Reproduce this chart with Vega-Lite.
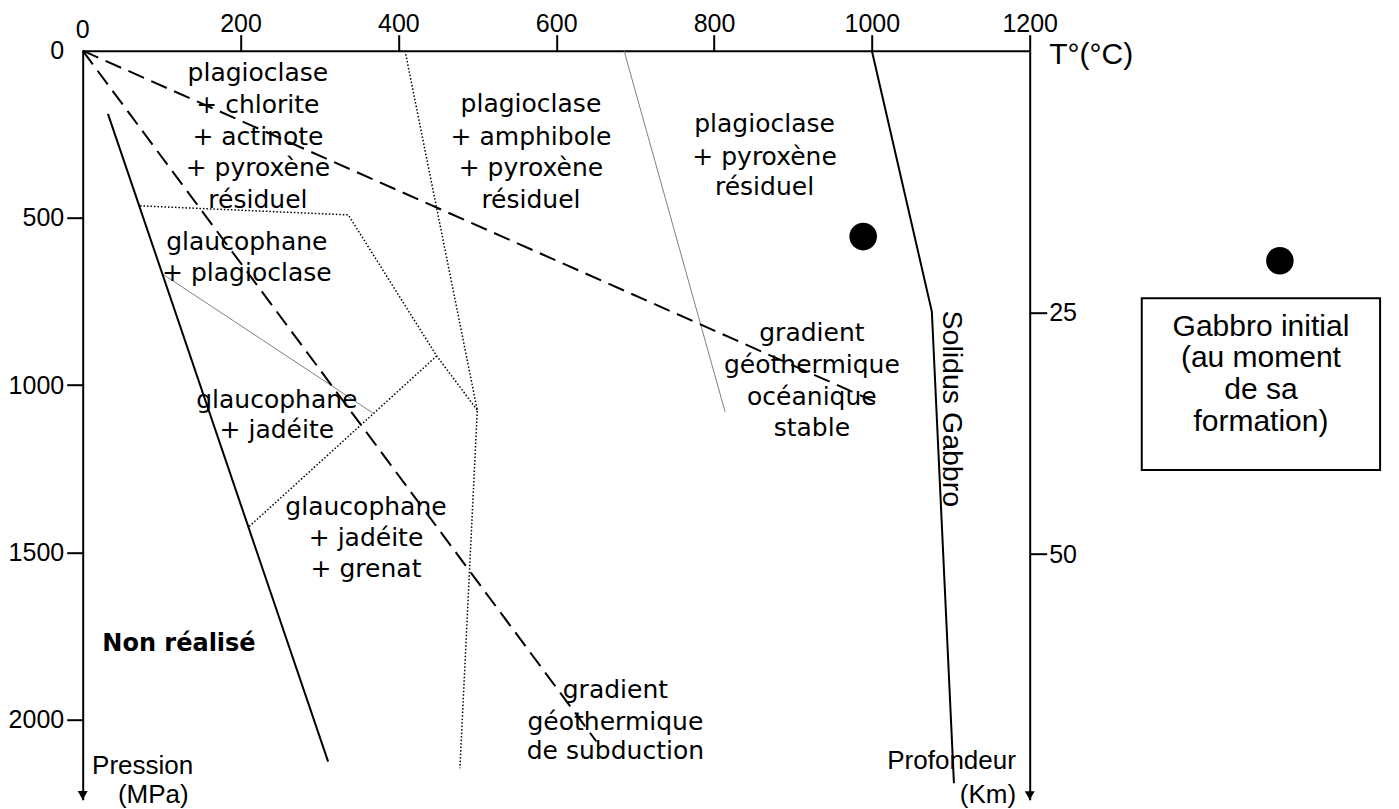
{
  "$schema": "https://vega.github.io/schema/vega-lite/v6.json",
  "width": 947,
  "height": 749,
  "autosize": {"type": "none"},
  "padding": {"left": 82.7, "top": 50.7, "right": 369.3, "bottom": 9.3},
  "background": "white",
  "config": {
    "view": {"stroke": null},
    "axis": {
      "grid": false,
      "domainColor": "black",
      "domainWidth": 2,
      "tickColor": "black",
      "tickWidth": 2,
      "tickSize": 16,
      "labelFont": "Liberation Sans",
      "labelFontSize": 25,
      "labelColor": "black"
    }
  },
  "datasets": {
    "gradients": [
      {"line": "océanique", "i": 0, "T": 0, "P": 0},
      {"line": "océanique", "i": 1, "T": 1004, "P": 1050},
      {"line": "subduction", "i": 0, "T": 0, "P": 0},
      {"line": "subduction", "i": 1, "T": 651, "P": 2066}
    ],
    "solid": [
      {"line": "limite", "i": 0, "T": 32, "P": 189},
      {"line": "limite", "i": 1, "T": 311, "P": 2126},
      {"line": "solidus", "i": 0, "T": 1000, "P": 0},
      {"line": "solidus", "i": 1, "T": 1076, "P": 780},
      {"line": "solidus", "i": 2, "T": 1104, "P": 2191}
    ],
    "dotted": [
      {"line": "A", "i": 0, "T": 72.6, "P": 464},
      {"line": "A", "i": 1, "T": 336.5, "P": 491},
      {"line": "A", "i": 2, "T": 448.6, "P": 913},
      {"line": "A", "i": 3, "T": 500, "P": 1075},
      {"line": "B", "i": 0, "T": 408.4, "P": 0},
      {"line": "B", "i": 1, "T": 500, "P": 1075},
      {"line": "B", "i": 2, "T": 478, "P": 2146},
      {"line": "C", "i": 0, "T": 211, "P": 1423},
      {"line": "C", "i": 1, "T": 448.6, "P": 913}
    ],
    "thin": [
      {"line": "D", "i": 0, "T": 102, "P": 669},
      {"line": "D", "i": 1, "T": 368, "P": 1084},
      {"line": "E", "i": 0, "T": 686, "P": 0},
      {"line": "E", "i": 1, "T": 814, "P": 1080}
    ],
    "points": [
      {"what": "Gabbro initial", "T": 989, "P": 556},
      {"what": "légende", "T": 1517, "P": 628}
    ],
    "zones": [
      {"text": "plagioclase", "T": 222, "P": 67},
      {"text": "+ chlorite", "T": 222, "P": 162},
      {"text": "+ actinote", "T": 222, "P": 258},
      {"text": "+ pyroxène", "T": 222, "P": 351},
      {"text": "résiduel", "T": 222, "P": 446},
      {"text": "plagioclase", "T": 568, "P": 160},
      {"text": "+ amphibole", "T": 568, "P": 257},
      {"text": "+ pyroxène", "T": 568, "P": 352},
      {"text": "résiduel", "T": 568, "P": 446},
      {"text": "plagioclase", "T": 864, "P": 219},
      {"text": "+ pyroxène", "T": 864, "P": 317},
      {"text": "résiduel", "T": 864, "P": 408},
      {"text": "gradient", "T": 924, "P": 845},
      {"text": "géothermique", "T": 924, "P": 940},
      {"text": "océanique", "T": 924, "P": 1037},
      {"text": "stable", "T": 924, "P": 1129},
      {"text": "glaucophane", "T": 208, "P": 571},
      {"text": "+ plagioclase", "T": 208, "P": 664},
      {"text": "glaucophane", "T": 246, "P": 1045},
      {"text": "+ jadéite", "T": 246, "P": 1134},
      {"text": "glaucophane", "T": 359, "P": 1364},
      {"text": "+ jadéite", "T": 359, "P": 1458},
      {"text": "+ grenat", "T": 359, "P": 1551},
      {"text": "gradient", "T": 675, "P": 1912},
      {"text": "géothermique", "T": 675, "P": 2007},
      {"text": "de subduction", "T": 675, "P": 2093}
    ],
    "annot": [
      {"text": "Pression", "T": 76, "P": 2138},
      {"text": "(MPa)", "T": 89.5, "P": 2226},
      {"text": "Profondeur", "T": 1101, "P": 2123},
      {"text": "(Km)", "T": 1147, "P": 2226}
    ],
    "legend": [
      {"text": "Gabbro initial", "T": 1493, "P": 825},
      {"text": "(au moment", "T": 1493, "P": 919},
      {"text": "de sa", "T": 1493, "P": 1015},
      {"text": "formation)", "T": 1493, "P": 1110}
    ]
  },
  "encoding": {
    "x": {
      "field": "T", "type": "quantitative",
      "scale": {"domain": [0, 1200], "nice": false, "zero": false},
      "axis": null
    },
    "y": {
      "field": "P", "type": "quantitative",
      "scale": {"domain": [0, 2240], "nice": false, "zero": false, "reverse": true},
      "axis": null
    }
  },
  "layer": [
    {
      "data": {"values": [{"T1": 1342, "T2": 1644, "P1": 740.5, "P2": 1254}]},
      "mark": {"type": "rect", "fill": "white", "stroke": "black", "strokeWidth": 2},
      "encoding": {
        "x": {
          "field": "T1", "type": "quantitative",
          "scale": {"domain": [0, 1200], "nice": false, "zero": false},
          "axis": {"orient": "top", "values": [200, 400, 600, 800, 1000, 1200], "format": "d", "title": null, "labelPadding": -2, "labelFlush": false, "labelOverlap": false}
        },
        "x2": {"field": "T2"},
        "y": {
          "field": "P1", "type": "quantitative",
          "scale": {"domain": [0, 2240], "nice": false, "zero": false, "reverse": true},
          "axis": {"orient": "left", "values": [0, 500, 1000, 1500, 2000], "format": "d", "title": null, "labelPadding": 3, "labelFlush": false, "labelOverlap": false,
                   "tickOpacity": {"condition": {"test": "datum.value === 0", "value": 0}, "value": 1}}
        },
        "y2": {"field": "P2"}
      }
    },
    {
      "data": {"name": "thin"},
      "mark": {"type": "line", "stroke": "#808080", "strokeWidth": 1},
      "encoding": {"detail": {"field": "line"}, "order": {"field": "i"}}
    },
    {
      "data": {"name": "dotted"},
      "mark": {"type": "line", "stroke": "black", "strokeWidth": 1.5, "strokeDash": [1.5, 2]},
      "encoding": {"detail": {"field": "line"}, "order": {"field": "i"}}
    },
    {
      "data": {"name": "gradients"},
      "mark": {"type": "line", "stroke": "black", "strokeWidth": 2, "strokeDash": [17, 8]},
      "encoding": {"detail": {"field": "line"}, "order": {"field": "i"}}
    },
    {
      "data": {"name": "solid"},
      "mark": {"type": "line", "stroke": "black", "strokeWidth": 2},
      "encoding": {"detail": {"field": "line"}, "order": {"field": "i"}}
    },
    {
      "data": {"name": "points"},
      "mark": {"type": "point", "shape": "circle", "filled": true, "color": "black", "opacity": 1, "size": 760}
    },
    {
      "data": {"values": [{"T": 0, "P": 2227}]},
      "mark": {"type": "point", "shape": "triangle-down", "filled": true, "color": "black", "opacity": 1, "size": 100}
    },
    {
      "data": {"name": "zones"},
      "mark": {"type": "text", "font": "DejaVu Sans", "fontSize": 25, "color": "black", "align": "center", "baseline": "middle"},
      "encoding": {"text": {"field": "text"}}
    },
    {
      "data": {"values": [{"text": "Non réalisé", "T": 122, "P": 1774}]},
      "mark": {"type": "text", "font": "DejaVu Sans", "fontSize": 24, "fontWeight": "bold", "color": "black", "align": "center", "baseline": "middle"},
      "encoding": {"text": {"field": "text"}}
    },
    {
      "data": {"name": "annot"},
      "mark": {"type": "text", "font": "Liberation Sans", "fontSize": 26, "color": "black", "align": "center", "baseline": "middle"},
      "encoding": {"text": {"field": "text"}}
    },
    {
      "data": {"values": [{"text": "T°(°C)", "T": 1278, "P": 13}]},
      "mark": {"type": "text", "font": "Liberation Sans", "fontSize": 30, "color": "black", "align": "center", "baseline": "middle"},
      "encoding": {"text": {"field": "text"}}
    },
    {
      "data": {"values": [{"text": "Solidus Gabbro", "T": 1101, "P": 1071}]},
      "mark": {"type": "text", "font": "Liberation Sans", "fontSize": 28.5, "angle": 90, "color": "black", "align": "center", "baseline": "middle"},
      "encoding": {"text": {"field": "text"}}
    },
    {
      "data": {"name": "legend"},
      "mark": {"type": "text", "font": "Liberation Sans", "fontSize": 30, "color": "black", "align": "center", "baseline": "middle"},
      "encoding": {"text": {"field": "text"}}
    },
    {
      "data": {"values": [{"text": "0", "T": 0, "P": -63}]},
      "mark": {"type": "text", "font": "Liberation Sans", "fontSize": 25, "color": "black", "align": "center", "baseline": "middle"},
      "encoding": {"text": {"field": "text"}}
    },
    {
      "data": {"values": [{"T": 1200, "D": 74.98}]},
      "mark": {"type": "point", "shape": "triangle-down", "filled": true, "color": "black", "opacity": 1, "size": 100},
      "encoding": {
        "y": {
          "field": "D", "type": "quantitative",
          "scale": {"domain": [-2.058, 75.41], "nice": false, "zero": false, "reverse": true},
          "axis": {"orient": "right", "values": [25, 50], "title": null, "tickSize": 17, "labelPadding": 2, "labelFlush": false}
        }
      }
    }
  ],
  "resolve": {"scale": {"y": "independent"}, "axis": {"x": "independent", "y": "independent"}}
}
